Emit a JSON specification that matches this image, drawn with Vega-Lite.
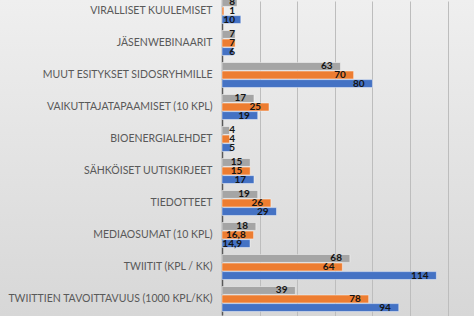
{
  "$schema": "https://vega.github.io/schema/vega-lite/v6.json",
  "width": 474,
  "height": 316,
  "autosize": {"type": "none"},
  "padding": 0,
  "background": "#d6d6d6",
  "config": {
    "view": {
      "stroke": null,
      "fill": {"gradient": "linear", "x1": 0, "y1": 0, "x2": 0, "y2": 1, "stops": [{"offset": 0, "color": "#efefef"}, {"offset": 1, "color": "#d7d7d7"}]}
    },
    "font": "Lato",
    "locale": {"number": {"decimal": ",", "thousands": "\u00a0", "grouping": [3], "currency": ["", "\u00a0€"]}}
  },
  "data": {
    "values": [
      {"k": "VIRALLISET KUULEMISET", "s": "Sarja 1", "v": 8},
      {"k": "VIRALLISET KUULEMISET", "s": "Sarja 2", "v": 1},
      {"k": "VIRALLISET KUULEMISET", "s": "Sarja 3", "v": 10},
      {"k": "JÄSENWEBINAARIT", "s": "Sarja 1", "v": 7},
      {"k": "JÄSENWEBINAARIT", "s": "Sarja 2", "v": 7},
      {"k": "JÄSENWEBINAARIT", "s": "Sarja 3", "v": 6},
      {"k": "MUUT ESITYKSET SIDOSRYHMILLE", "s": "Sarja 1", "v": 63},
      {"k": "MUUT ESITYKSET SIDOSRYHMILLE", "s": "Sarja 2", "v": 70},
      {"k": "MUUT ESITYKSET SIDOSRYHMILLE", "s": "Sarja 3", "v": 80},
      {"k": "VAIKUTTAJATAPAAMISET (10 KPL)", "s": "Sarja 1", "v": 17},
      {"k": "VAIKUTTAJATAPAAMISET (10 KPL)", "s": "Sarja 2", "v": 25},
      {"k": "VAIKUTTAJATAPAAMISET (10 KPL)", "s": "Sarja 3", "v": 19},
      {"k": "BIOENERGIALEHDET", "s": "Sarja 1", "v": 4},
      {"k": "BIOENERGIALEHDET", "s": "Sarja 2", "v": 4},
      {"k": "BIOENERGIALEHDET", "s": "Sarja 3", "v": 5},
      {"k": "SÄHKÖISET UUTISKIRJEET", "s": "Sarja 1", "v": 15},
      {"k": "SÄHKÖISET UUTISKIRJEET", "s": "Sarja 2", "v": 15},
      {"k": "SÄHKÖISET UUTISKIRJEET", "s": "Sarja 3", "v": 17},
      {"k": "TIEDOTTEET", "s": "Sarja 1", "v": 19},
      {"k": "TIEDOTTEET", "s": "Sarja 2", "v": 26},
      {"k": "TIEDOTTEET", "s": "Sarja 3", "v": 29},
      {"k": "MEDIAOSUMAT (10 KPL)", "s": "Sarja 1", "v": 18},
      {"k": "MEDIAOSUMAT (10 KPL)", "s": "Sarja 2", "v": 16.8},
      {"k": "MEDIAOSUMAT (10 KPL)", "s": "Sarja 3", "v": 14.9},
      {"k": "TWIITIT (KPL / KK)", "s": "Sarja 1", "v": 68},
      {"k": "TWIITIT (KPL / KK)", "s": "Sarja 2", "v": 64},
      {"k": "TWIITIT (KPL / KK)", "s": "Sarja 3", "v": 114},
      {"k": "TWIITTIEN TAVOITTAVUUS (1000 KPL/KK)", "s": "Sarja 1", "v": 39},
      {"k": "TWIITTIEN TAVOITTAVUUS (1000 KPL/KK)", "s": "Sarja 2", "v": 78},
      {"k": "TWIITTIEN TAVOITTAVUUS (1000 KPL/KK)", "s": "Sarja 3", "v": 94}
    ]
  },
  "encoding": {
    "y": {
      "field": "k",
      "type": "nominal",
      "sort": ["VIRALLISET KUULEMISET", "JÄSENWEBINAARIT", "MUUT ESITYKSET SIDOSRYHMILLE", "VAIKUTTAJATAPAAMISET (10 KPL)", "BIOENERGIALEHDET", "SÄHKÖISET UUTISKIRJEET", "TIEDOTTEET", "MEDIAOSUMAT (10 KPL)", "TWIITIT (KPL / KK)", "TWIITTIEN TAVOITTAVUUS (1000 KPL/KK)"],
      "scale": {"range": [-5, 315], "paddingInner": 0.22, "paddingOuter": 0.11},
      "axis": {"title": null, "offset": -222, "ticks": false, "domainColor": "#595959", "domainWidth": 1.5, "labelColor": "#595959", "labelFontSize": 10.5, "labelPadding": 10, "labelLimit": 300}
    },
    "yOffset": {"field": "s", "type": "nominal", "sort": ["Sarja 1", "Sarja 2", "Sarja 3"], "scale": {"paddingInner": 0.08}}
  },
  "layer": [
    {
      "mark": {"type": "bar", "stroke": "#ffffff", "strokeOpacity": 0.45, "strokeWidth": 1},
      "encoding": {
        "x": {
          "field": "v",
          "type": "quantitative",
          "scale": {"domain": [0, 134], "range": [222, 474], "nice": false, "zero": true},
          "axis": {"title": null, "values": [0, 20, 40, 60, 80, 100, 120], "labels": false, "domain": false, "ticks": true, "tickSize": 4, "tickColor": "#bdbdbd", "grid": true, "gridColor": "#bdbdbd", "gridWidth": 1}
        },
        "color": {"field": "s", "type": "nominal", "scale": {"domain": ["Sarja 1", "Sarja 2", "Sarja 3"], "range": ["#a5a5a5", "#ed7d31", "#4472c4"]}, "legend": null}
      }
    },
    {
      "transform": [{"calculate": "max(datum.v - 4.2, 6.9)", "as": "lx"}],
      "mark": {"type": "text", "align": "right", "baseline": "middle", "fontWeight": "bold", "fontSize": 10, "color": "#141414"},
      "encoding": {
        "x": {"field": "lx", "type": "quantitative"},
        "text": {"field": "v", "type": "quantitative", "format": ".3~r"}
      }
    }
  ]
}
